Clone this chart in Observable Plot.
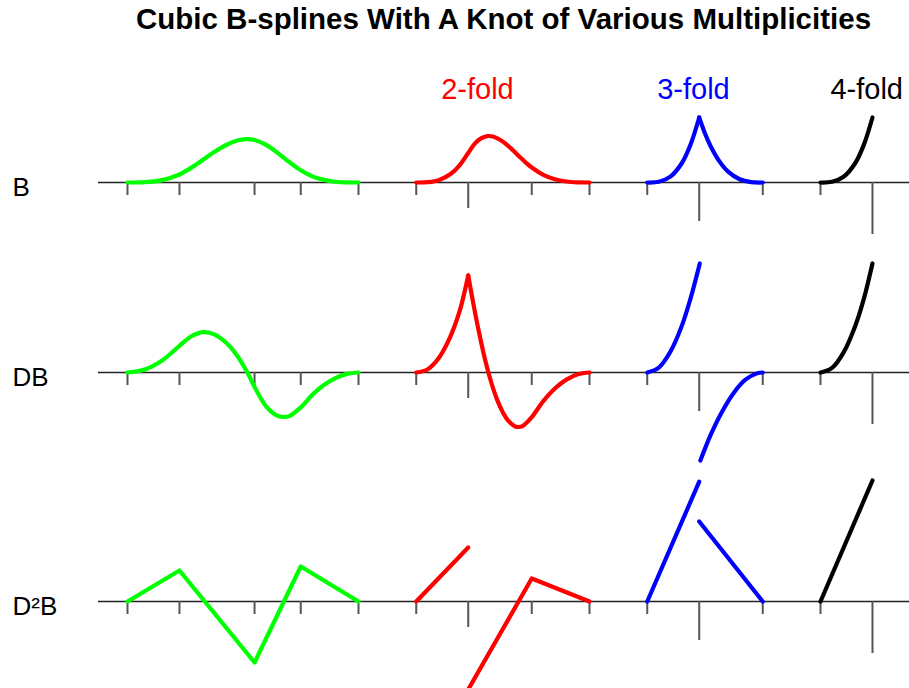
<!DOCTYPE html>
<html>
<head>
<meta charset="utf-8">
<script src="https://cdn.jsdelivr.net/npm/d3@7"></script>
<script src="https://cdn.jsdelivr.net/npm/@observablehq/plot@0.6"></script>
<style>
  body { margin: 0; background: #fff; font-family: "Liberation Sans", Arial, Helvetica, sans-serif; }
  #title { margin-left: 98px; width: 811px; height: 38px; line-height: 38px; text-align: center;
           font-weight: bold; font-size: 29.5px; white-space: nowrap; color: #000; }
  #chart svg { display: block; overflow: visible; }
</style>
</head>
<body>
<div id="title">Cubic B-splines With A Knot of Various Multiplicities</div>
<div id="chart"></div>
<script>
// ---------- data ----------
// knot locations and their multiplicities (simple, 2-fold, 3-fold, 4-fold groups)
const knots        = [0, 0.9, 2.2, 3.0, 4.0,  5.0, 5.9, 7.0, 8.0,  9.0, 9.9, 11.0,  12.0, 12.9];
const multiplicity = [1, 1,   1,   1,   1,    1,   2,   1,   1,    1,   3,   1,     1,    4];

const rowLabels   = ["B", "DB", "D²B"];
const foldLabels  = ["2-fold", "3-fold", "4-fold"];
const foldLabelX  = [6.06, 9.8, 12.8];
const groupColors = ["#00ff00", "#ff0000", "#0000ff", "#000000"];

// B (values)
const bSimple = [[0,0],[0.3,0.005],[0.6,0.037],[0.9,0.123],[1.1,0.225],[1.3,0.345],[1.5,0.468],[1.7,0.573],[1.9,0.645],[2.05,0.668],[2.2,0.655],[2.4,0.58],[2.6,0.455],[2.8,0.315],[3.0,0.188],[3.2,0.095],[3.4,0.04],[3.6,0.012],[3.8,0.0015],[4.0,0]];
const b2fold  = [[5,0],[5.2,0.005],[5.4,0.04],[5.6,0.135],[5.75,0.265],[5.9,0.455],[6.01,0.595],[6.12,0.678],[6.23,0.714],[6.34,0.705],[6.45,0.658],[6.56,0.588],[6.67,0.5],[6.78,0.405],[6.89,0.312],[7.0,0.23],[7.2,0.118],[7.4,0.05],[7.6,0.015],[7.8,0.002],[8,0]];
const b3foldL = [[9,0],[9.2,0.011],[9.4,0.09],[9.6,0.3],[9.75,0.585],[9.9,1.0]];
const b3foldR = [[9.9,1.0],[10.0,0.755],[10.1,0.555],[10.25,0.325],[10.4,0.167],[10.6,0.05],[10.8,0.006],[11,0]];
const b4fold  = [[12,0],[12.2,0.011],[12.4,0.088],[12.6,0.296],[12.75,0.579],[12.9,1.0]];

// DB (first derivative, relative to the 4-fold end value)
const dbSimple = [[0,0],[0.3,0.028],[0.6,0.11],[0.9,0.245],[1.1,0.33],[1.3,0.37],[1.5,0.35],[1.7,0.277],[1.9,0.153],[2.1,-0.025],[2.2,-0.132],[2.4,-0.31],[2.6,-0.398],[2.7,-0.408],[2.8,-0.4],[3.0,-0.32],[3.2,-0.205],[3.4,-0.115],[3.6,-0.051],[3.8,-0.013],[4,0]];
const db2foldL = [[5,0],[5.2,0.03],[5.4,0.14],[5.6,0.34],[5.75,0.56],[5.9,0.89]];
const db2foldR = [[5.9,0.89],[6.0,0.6],[6.1,0.335],[6.2,0.1],[6.3,-0.094],[6.4,-0.249],[6.5,-0.366],[6.6,-0.447],[6.7,-0.491],[6.77,-0.5],[6.85,-0.488],[7.0,-0.41],[7.2,-0.262],[7.4,-0.147],[7.6,-0.065],[7.8,-0.016],[8,0]];
const db3foldL = [[9,0],[9.2,0.045],[9.4,0.19],[9.6,0.43],[9.75,0.68],[9.91,1.0]];
const db3foldR = [[9.92,-0.807],[10.1,-0.57],[10.3,-0.355],[10.5,-0.185],[10.7,-0.066],[10.9,-0.008],[11,0]];
const db4fold  = [[12,0],[12.2,0.042],[12.4,0.185],[12.6,0.425],[12.75,0.675],[12.9,1.0]];

// D²B (second derivative, piecewise linear)
const d2bSimple = [[0,0],[0.9,0.256],[2.2,-0.504],[3.0,0.289],[4.0,0]];
const d2b2foldL = [[5,0],[5.9,0.446]];
const d2b2foldR = [[5.9,-0.727],[7.0,0.19],[8.0,0]];
const d2b3foldL = [[9,0],[9.9,0.99]];
const d2b3foldR = [[9.9,0.661],[11,0]];
const d2b4fold  = [[12,0],[12.9,1.0]];

// ---------- layout ----------
const W = 909;
const layout = [
  {height: 212, base: 144, unit: 65},
  {height: 215, base: 122, unit: 109},
  {height: 223, base: 136, unit: 121}
];
const xScale = {domain: [0, 1], range: [127, 184.75], axis: null};

const rows = [
  {curve: "catmull-rom", pieces: [[bSimple,0],[b2fold,1],[b3foldL,2],[b3foldR,2],[b4fold,3]]},
  {curve: "catmull-rom", pieces: [[dbSimple,0],[db2foldL,1],[db2foldR,1],[db3foldL,2],[db3foldR,2],[db4fold,3]]},
  {curve: "linear",      pieces: [[d2bSimple,0],[d2b2foldL,1],[d2b2foldR,1],[d2b3foldL,2],[d2b3foldR,2],[d2b4fold,3]]}
];

const knotData = knots.map((k, i) => ({x: k, m: multiplicity[i]}));
const font = "'Liberation Sans', Arial, Helvetica, sans-serif";
const chart = document.getElementById("chart");

rows.forEach((row, r) => {
  const L = layout[r];
  const marks = [
    Plot.ruleY([0], {stroke: "#222", strokeWidth: 1.5}),
    ...[1, 2, 3, 4].map(m =>
      Plot.ruleX(knotData.filter(d => d.m === m),
        {x: "x", y1: 0, y2: 0, insetBottom: -13 * m, stroke: "#555", strokeWidth: 2})),
    ...row.pieces.map(([data, g]) =>
      Plot.line(data, {x: d => d[0], y: d => d[1], stroke: groupColors[g], strokeWidth: 4.2,
        curve: row.curve, strokeLinecap: "round", strokeLinejoin: "round"})),
    Plot.text([{label: rowLabels[r], v: 0}], {text: "label", y: "v", frameAnchor: "left",
      textAnchor: "start", lineAnchor: "bottom", dx: -86, dy: 13, fontSize: 26, fill: "#000"})
  ];
  if (r === 0) {
    foldLabels.forEach((lab, i) => {
      marks.push(Plot.text([{label: lab, x: foldLabelX[i]}], {text: "label", x: "x", frameAnchor: "top",
        lineAnchor: "bottom", dy: 60, fontSize: 29, fill: groupColors[i + 1]}));
    });
  }
  const svg = Plot.plot({
    width: W,
    height: L.height,
    marginLeft: 98, marginRight: 0, marginTop: 0, marginBottom: 0,
    x: xScale,
    y: {domain: [0, 1], range: [L.base, L.base - L.unit], axis: null},
    style: {fontFamily: font, background: "transparent", overflow: "visible"},
    marks
  });
  chart.appendChild(svg);
});
</script>
</body>
</html>
